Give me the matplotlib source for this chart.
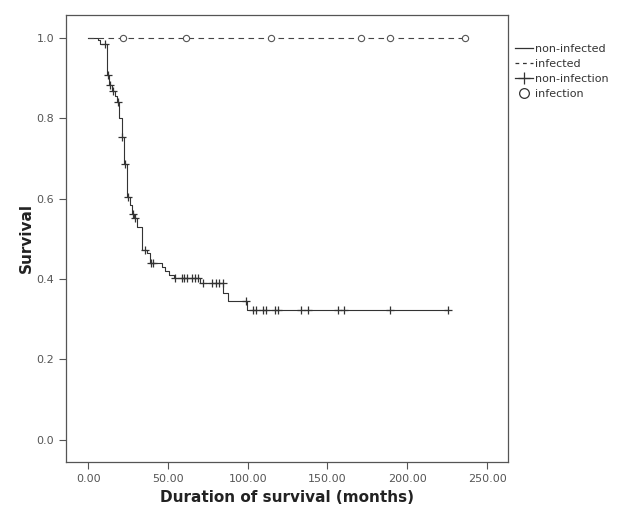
import numpy as np
import matplotlib.pyplot as plt
from matplotlib.lines import Line2D

# non-infected group: step function (time of event, survival after event)
event_t = [0, 6.3, 7.5, 12.0, 13.2, 15.0, 17.0, 18.0, 19.5, 21.0, 22.6, 24.5,
           26.5, 27.5, 29.0, 30.5, 34.0, 37.0, 39.0, 46.0, 48.0, 50.5, 54.0,
           70.3, 84.8, 87.9, 99.5]
event_s = [1.0, 0.993, 0.983, 0.906, 0.881, 0.868, 0.856, 0.839, 0.800, 0.754,
           0.687, 0.605, 0.585, 0.561, 0.551, 0.530, 0.471, 0.465, 0.439, 0.429,
           0.419, 0.409, 0.402, 0.390, 0.365, 0.345, 0.3226]
end_t = 225.5

# censored cases (non-infection)
cens_t = [10.5, 12.5, 13.5, 15.5, 18.5, 21.3, 23.0, 25.0, 27.8, 29.5, 35.8,
          39.6, 40.8, 54.3, 59.0, 60.3, 62.2, 65.3, 67.2, 69.1, 72.2, 77.9,
          80.4, 82.3, 84.2, 98.7, 103.6, 104.9, 109.3, 111.2, 116.8, 118.7,
          133.2, 137.6, 156.4, 160.2, 189.1, 225.5]

# infected group: no events, censored cases (infection)
inf_end = 236.2
inf_cens = [22.0, 61.6, 114.3, 170.9, 189.0, 236.2]

def surv_at(t):
    idx = np.searchsorted(event_t, t, side='right') - 1
    return np.array(event_s)[idx]

fig = plt.figure(figsize=(6.3, 5.25), dpi=100)
ax = fig.add_axes([0.105, 0.12, 0.701, 0.852])

line_col = '#333333'
x_step = event_t + [end_t]
y_step = event_s + [event_s[-1]]
ax.step(x_step, y_step, where='post', color=line_col, lw=0.8)
ax.plot(cens_t, surv_at(np.array(cens_t)), '+', color=line_col, ms=6, mew=0.9)

ax.plot([0, inf_end], [1.0, 1.0], color='#444444', lw=0.8, dashes=(5, 4))
ax.plot(inf_cens, np.ones(len(inf_cens)), 'o', mfc='white', mec='#555555',
        ms=4.5, mew=0.8)

ax.set_xlim(-13.8, 263)
ax.set_ylim(-0.055, 1.057)
ax.set_xticks([0, 50, 100, 150, 200, 250])
ax.set_xticklabels(['0.00', '50.00', '100.00', '150.00', '200.00', '250.00'])
ax.set_yticks([0, 0.2, 0.4, 0.6, 0.8, 1.0])
ax.set_yticklabels(['0.0', '0.2', '0.4', '0.6', '0.8', '1.0'])
ax.tick_params(colors='#555555', labelsize=8, length=5, width=0.8)
ax.tick_params(axis='x', pad=4)
for sp in ax.spines.values():
    sp.set_color('#555555')
    sp.set_linewidth(0.9)

ax.set_xlabel('Duration of survival (months)', fontsize=11, color='#222222',
              fontweight='bold', labelpad=4)
ax.set_ylabel('Survival', fontsize=11, color='#222222', fontweight='bold',
              labelpad=2)

handles = [Line2D([], [], color=line_col, lw=0.9),
           Line2D([], [], color=line_col, lw=0.9, dashes=(3, 3)),
           Line2D([], [], color=line_col, lw=0.9, marker='+', ms=9, mew=0.9),
           Line2D([], [], ls='none', marker='o', mfc='white', mec='#333333',
                  ms=7, mew=0.9)]
labels = ['non-infected', 'infected', 'non-infection', 'infection']
fig.legend(handles, labels, loc='upper left', bbox_to_anchor=(0.81, 0.925),
           frameon=False, fontsize=8, handlelength=1.6, handletextpad=0.2,
           labelspacing=0.45, labelcolor='#333333', borderaxespad=0)

fig.savefig('out.png', dpi=100)
